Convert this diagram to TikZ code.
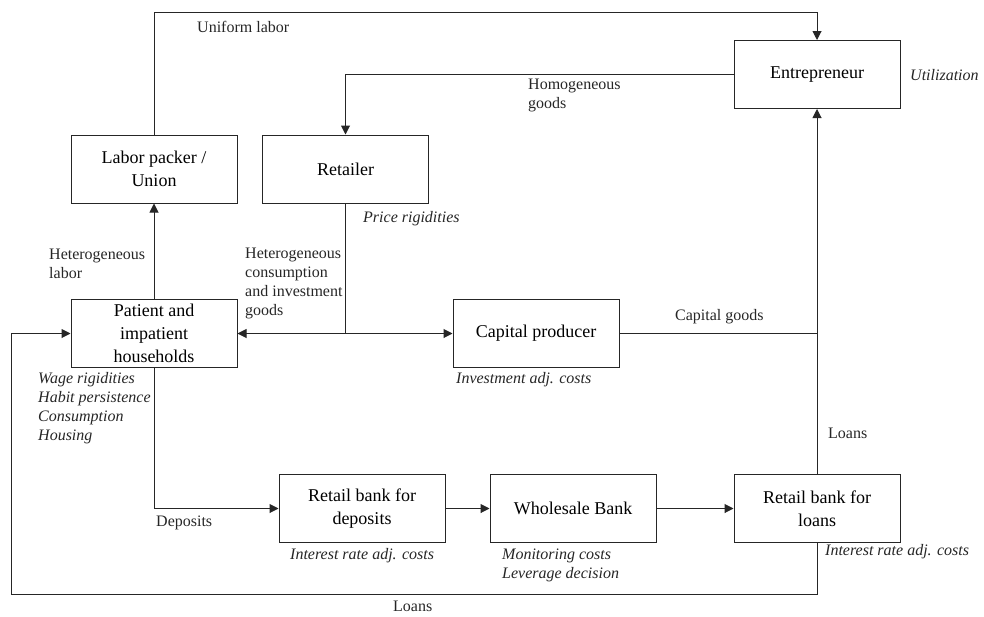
\documentclass[tikz,border=0pt]{standalone}
\usepackage{fontspec}
\setmainfont{Liberation Serif}
\usetikzlibrary{arrows.meta,calc}
\begin{document}
\begin{tikzpicture}[x=1pt,y=-1pt,
  box/.style={draw=black!85,line width=1pt,minimum width=166pt,minimum height=68pt,inner sep=0pt,align=center,font=\fontsize{18}{23}\selectfont},
  conn/.style={draw=black!85,line width=1pt},
  arr/.style={conn,-{Triangle[length=9pt,width=9pt]}},
  lbl/.style={inner sep=0pt,align=left,anchor=west,font=\fontsize{16}{19}\selectfont,text=black!85},
  ilbl/.style={lbl,font=\fontsize{16}{19}\selectfont\itshape}]
\useasboundingbox (0,0) rectangle (984,616);
% boxes
\node[box] (labor) at (154,169) {Labor packer /\\Union};
\node[box] (retail) at (345.5,169) {Retailer};
\node[box] (entre) at (817,74.5) {Entrepreneur};
\node[box] (patient) at (154,333.5) {Patient and\\impatient\\households};
\node[box] (capital) at (536,333.5) {Capital producer};
\node[box] (rdep) at (362,508.5) {Retail bank for\\deposits};
\node[box] (whole) at (573,508.5) {Wholesale Bank};
\node[box] (rloan) at (817,508.5) {Retail bank for\\loans};
% helper coordinates
\coordinate (ul1) at (154,12);
\coordinate (ul2) at (817,12);
\coordinate (hg) at (345.5,74.5);
\coordinate (jr) at (345.5,333.5);
\coordinate (jc) at (817,333.5);
\coordinate (dp) at (154,508.5);
\coordinate (lb1) at (817,594);
\coordinate (lb2) at (11,594);
\coordinate (lb3) at (11,333.5);
% connectors
\draw[arr] (labor.north) -- (ul1) -- (ul2) -- (entre.north);
\draw[arr] (entre.west) -- (hg) -- (retail.north);
\draw[arr] (patient.north) -- (labor.south);
\draw[conn] (retail.south) -- (jr);
\draw[arr] (jr) -- (patient.east);
\draw[arr] (jr) -- (capital.west);
\draw[conn] (capital.east) -- (jc);
\draw[arr] (rloan.north) -- (entre.south);
\draw[arr] (patient.south) -- (dp) -- (rdep.west);
\draw[arr] (rdep.east) -- (whole.west);
\draw[arr] (whole.east) -- (rloan.west);
\draw[arr] (rloan.south) -- (lb1) -- (lb2) -- (lb3) -- (patient.west);
% labels
\node[lbl] (t1) at (197,27) {Uniform labor};
\node[lbl] (t2) at (528,95.5) {Homogeneous\\goods};
\node[ilbl] (t3) at (910,75) {Utilization};
\node[ilbl] (t4) at (363,219) {Price rigidities};
\node[lbl] (t5) at (49,264) {Heterogeneous\\labor};
\node[lbl] (t6) at (245,283.5) {Heterogeneous\\consumption\\and investment\\goods};
\node[lbl] (t7) at (675,317) {Capital goods};
\node[ilbl] (t8) at (456,380) {Investment adj. costs};
\node[ilbl] (t9) at (38,408.5) {Wage rigidities\\Habit persistence\\Consumption\\Housing};
\node[lbl] (t10) at (828,433) {Loans};
\node[lbl] (t11) at (156,523) {Deposits};
\node[ilbl] (t12) at (290,556) {Interest rate adj. costs};
\node[ilbl] (t13) at (502,565.5) {Monitoring costs\\Leverage decision};
\node[ilbl] (t14) at (825,552) {Interest rate adj. costs};
\node[lbl] (t15) at (393,606) {Loans};
\end{tikzpicture}
\end{document}
